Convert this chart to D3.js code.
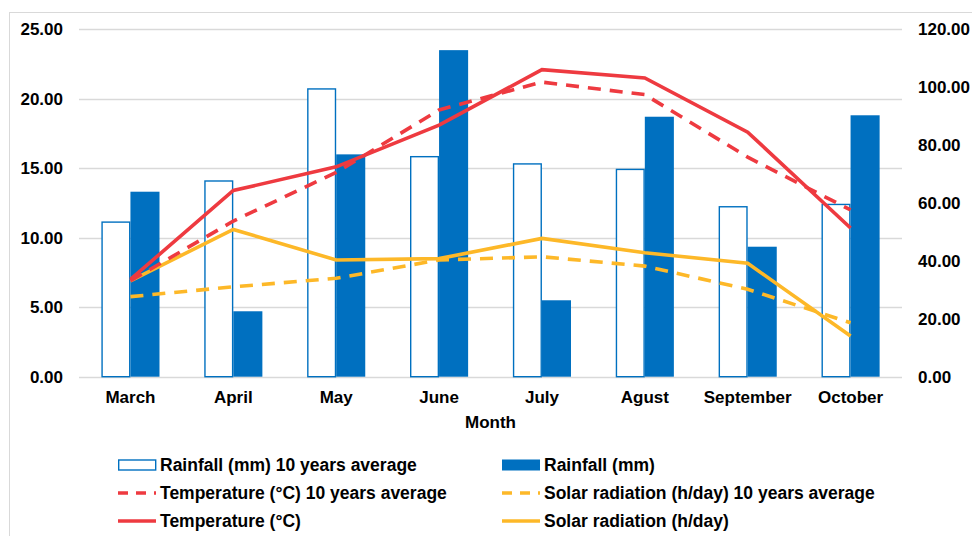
<!DOCTYPE html>
<html>
<head>
<meta charset="utf-8">
<script src="https://cdn.jsdelivr.net/npm/d3@7"></script>
<style>
  body { margin: 0; background: #fff; }
  svg { font-family: "Liberation Sans", Arial, sans-serif; }
</style>
</head>
<body>
<svg id="chart" width="972" height="536"></svg>
<script>
var months = ["March", "April", "May", "June", "July", "Agust", "September", "October"];
var rainAvg = [53.4, 67.6, 99.4, 76.0, 73.5, 71.6, 58.7, 59.5];
var rain = [63.9, 22.6, 76.8, 112.8, 26.4, 89.8, 44.9, 90.3];
var tempAvg = [6.9, 11.2, 14.7, 19.2, 21.2, 20.3, 15.8, 12.0];
var temp = [7.0, 13.4, 15.1, 18.1, 22.1, 21.5, 17.6, 10.7];
var solarAvg = [5.76, 6.47, 7.08, 8.4, 8.63, 7.96, 6.29, 3.88];
var solar = [6.9, 10.6, 8.4, 8.5, 9.95, 8.92, 8.16, 2.93];
var leftTicks = [0, 5, 10, 15, 20, 25];
var rightTicks = [0, 20, 40, 60, 80, 100, 120];

var blue = "#0070C0", red = "#EE3A40", yellow = "#FDB828";

var svg = d3.select("#chart");
var plotLeft = 79, plotRight = 902, plotTop = 29.3, plotBottom = 376.7;

// chart frame
svg.append("rect").attr("x", 9.5).attr("y", 12.5).attr("width", 980).attr("height", 540)
    .attr("fill", "none").attr("stroke", "#d9d9d9");

var x = d3.scaleBand().domain(months).range([plotLeft, plotRight]).paddingInner(0.435).paddingOuter(0.2175);
var sub = d3.scaleBand().domain(["avg", "cur"]).range([0, x.bandwidth()]);
var yL = d3.scaleLinear().domain([0, 25]).range([plotBottom, plotTop]);
var yR = d3.scaleLinear().domain([0, 120]).range([plotBottom, plotTop]);

// gridlines
svg.append("g").selectAll("line").data(leftTicks).join("line")
    .attr("x1", plotLeft).attr("x2", plotRight)
    .attr("y1", function(d) { return Math.round(yL(d)) + 0.5; })
    .attr("y2", function(d) { return Math.round(yL(d)) + 0.5; })
    .attr("stroke", "#d9d9d9").attr("stroke-width", 1.3);

// axes
var axisL = svg.append("g").attr("transform", "translate(" + plotLeft + ",0)")
    .call(d3.axisLeft(yL).tickValues(leftTicks).tickFormat(d3.format(".2f")).tickSize(0).tickPadding(16));
var axisR = svg.append("g").attr("transform", "translate(" + plotRight + ",0)")
    .call(d3.axisRight(yR).tickValues(rightTicks).tickFormat(d3.format(".2f")).tickSize(0).tickPadding(16));
var axisB = svg.append("g").attr("transform", "translate(0," + plotBottom + ")")
    .call(d3.axisBottom(x).tickSize(0).tickPadding(14));
[axisL, axisR, axisB].forEach(function(a) {
    a.select(".domain").remove();
    a.selectAll("text").attr("font-size", "17px").attr("font-weight", "bold")
        .attr("fill", "#000").attr("font-family", "Liberation Sans, Arial, sans-serif");
});

svg.append("text").attr("x", (plotLeft + plotRight) / 2).attr("y", 428).attr("text-anchor", "middle")
    .attr("font-size", "17px").attr("font-weight", "bold").text("Month");

// bars
svg.append("g").selectAll("rect").data(rainAvg).join("rect")
    .attr("x", function(d, i) { return x(months[i]) + sub("avg") + 0.7; })
    .attr("width", sub.bandwidth() - 1.4)
    .attr("y", function(d) { return yR(d); })
    .attr("height", function(d) { return plotBottom - yR(d); })
    .attr("fill", "#fff").attr("stroke", blue).attr("stroke-width", 1.4);
svg.append("g").selectAll("rect").data(rain).join("rect")
    .attr("x", function(d, i) { return x(months[i]) + sub("cur"); })
    .attr("width", sub.bandwidth())
    .attr("y", function(d) { return yR(d); })
    .attr("height", function(d) { return plotBottom - yR(d); })
    .attr("fill", blue);

// lines
var lineL = d3.line()
    .x(function(d, i) { return x(months[i]) + x.bandwidth() / 2; })
    .y(function(d) { return yL(d); });
function drawLine(vals, color, dashed) {
    svg.append("path").datum(vals).attr("d", lineL)
        .attr("fill", "none").attr("stroke", color).attr("stroke-width", 3.6)
        .attr("stroke-dasharray", dashed ? "13,9" : null);
}
drawLine(solarAvg, yellow, true);
drawLine(solar, yellow, false);
drawLine(tempAvg, red, true);
drawLine(temp, red, false);

// legend
var legend = [
    { name: "Rainfall (mm) 10 years average", type: "hollow", color: blue },
    { name: "Rainfall (mm)", type: "bar", color: blue },
    { name: "Temperature (°C) 10 years average", type: "dash", color: red },
    { name: "Solar radiation (h/day) 10 years average", type: "dash", color: yellow },
    { name: "Temperature (°C)", type: "line", color: red },
    { name: "Solar radiation (h/day)", type: "line", color: yellow }
];
var lg = svg.append("g").selectAll("g").data(legend).join("g")
    .attr("transform", function(d, i) {
        return "translate(" + (i % 2 ? 502 : 118) + "," + (465 + Math.floor(i / 2) * 28) + ")";
    });
lg.each(function(d) {
    var g = d3.select(this);
    if (d.type == "hollow") {
        g.append("rect").attr("x", 0.7).attr("y", -5).attr("width", 37).attr("height", 10)
            .attr("fill", "#fff").attr("stroke", d.color).attr("stroke-width", 1.4);
    } else if (d.type == "bar") {
        g.append("rect").attr("x", 0).attr("y", -5.5).attr("width", 38).attr("height", 11).attr("fill", d.color);
    } else {
        g.append("line").attr("x1", 0).attr("x2", 38).attr("y1", 0).attr("y2", 0)
            .attr("stroke", d.color).attr("stroke-width", 3.6)
            .attr("stroke-dasharray", d.type == "dash" ? "10,8" : null);
    }
    g.append("text").attr("x", 42).attr("y", 6).attr("font-size", "17.5px").attr("font-weight", "bold")
        .text(d.name);
});
</script>
</body>
</html>
